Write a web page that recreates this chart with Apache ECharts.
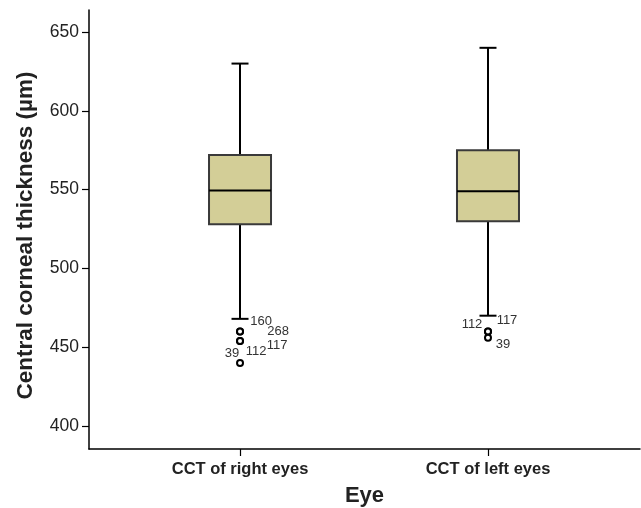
<!DOCTYPE html>
<html>
<head>
<meta charset="utf-8">
<script src="https://cdn.jsdelivr.net/npm/echarts@6/dist/echarts.min.js"></script>
<style>
html,body{margin:0;padding:0;background:#fff;}
#chart{width:641px;height:508px;}
</style>
</head>
<body>
<div id="chart"></div>
<script>
// ---- data ----
const categories = ['CCT of right eyes', 'CCT of left eyes'];
// [lower whisker, Q1, median, Q3, upper whisker]
const rightEyeStats = [468, 528, 549.5, 572, 630];
const leftEyeStats = [470, 530, 549, 575, 640];
// outliers: [category index, value, case label]
const outlierX = [0, 0, 0, 0, 0, 1, 1, 1];
const outlierY = [460, 460, 454, 454, 440, 460, 460, 456];
const outlierLabels = ['160', '268', '117', '112', '39', '112', '117', '39'];
const yTicks = [400, 450, 500, 550, 600, 650];
const xTicks = [0, 1];

// ---- label placement (style, not data) ----
const labelOffsets = [[21, -10], [38, 0], [37, 5], [16, 11], [-8, -10], [-16, -7], [19, -11], [15, 7]];

const boxData = [[0].concat(rightEyeStats), [1].concat(leftEyeStats)];
const outlierData = outlierX.map((x, i) => ({
  value: [x, outlierY[i], outlierLabels[i]],
  label: { offset: labelOffsets[i] }
}));

const BOX_HALF = 31, CAP_HALF = 8.5;
function renderBox(params, api) {
  const x = api.value(0);
  const lo = api.coord([x, api.value(1)]);
  const q1 = api.coord([x, api.value(2)]);
  const med = api.coord([x, api.value(3)]);
  const q3 = api.coord([x, api.value(4)]);
  const hi = api.coord([x, api.value(5)]);
  const cx = lo[0];
  const lineStyle = { stroke: '#000', lineWidth: 2 };
  return {
    type: 'group',
    children: [
      { type: 'line', shape: { x1: cx, y1: hi[1], x2: cx, y2: q3[1] }, style: lineStyle },
      { type: 'line', shape: { x1: cx, y1: q1[1], x2: cx, y2: lo[1] }, style: lineStyle },
      { type: 'line', shape: { x1: cx - CAP_HALF, y1: hi[1], x2: cx + CAP_HALF, y2: hi[1] }, style: lineStyle },
      { type: 'line', shape: { x1: cx - CAP_HALF, y1: lo[1], x2: cx + CAP_HALF, y2: lo[1] }, style: lineStyle },
      { type: 'rect', shape: { x: cx - BOX_HALF, y: q3[1], width: BOX_HALF * 2, height: q1[1] - q3[1] },
        style: { fill: '#d3ce97', stroke: '#3a3a3a', lineWidth: 2 } },
      { type: 'line', shape: { x1: cx - BOX_HALF, y1: med[1], x2: cx + BOX_HALF, y2: med[1] }, style: lineStyle }
    ]
  };
}

const chart = echarts.init(document.getElementById('chart'));
chart.setOption({
  animation: false,
  backgroundColor: '#fff',
  grid: { left: 89, right: 1, top: 10, bottom: 59, containLabel: false, outerBoundsMode: 'none' },
  xAxis: {
    type: 'value',
    min: -0.609, max: 1.613,
    name: 'Eye',
    nameLocation: 'middle',
    nameGap: 36,
    nameTextStyle: { fontFamily: 'Liberation Sans, Arial', fontWeight: 'bold', fontSize: 22, color: '#222' },
    axisLine: { show: true, onZero: false, lineStyle: { color: '#000', width: 1.5 } },
    axisTick: { show: true, customValues: xTicks, length: 7, lineStyle: { color: '#000', width: 1.2 } },
    axisLabel: {
      customValues: xTicks,
      formatter: v => categories[Math.round(v)],
      margin: 12,
      fontFamily: 'Liberation Sans, Arial', fontWeight: 'bold', fontSize: 16.5, color: '#222'
    },
    splitLine: { show: false }
  },
  yAxis: {
    type: 'value',
    min: 385.4, max: 664,
    name: 'Central corneal thickness (\u00b5m)',
    nameLocation: 'middle',
    nameGap: 52,
    nameTextStyle: { fontFamily: 'Liberation Sans, Arial', fontWeight: 'bold', fontSize: 22.5, color: '#222', padding: [0, 12, 0, 0] },
    axisLine: { show: true, onZero: false, lineStyle: { color: '#000', width: 1.5 } },
    axisTick: { show: true, customValues: yTicks, length: 7, lineStyle: { color: '#000', width: 1.2 } },
    axisLabel: {
      customValues: yTicks,
      margin: 10,
      fontFamily: 'Liberation Sans, Arial', fontSize: 17.5, color: '#222'
    },
    splitLine: { show: false }
  },
  series: [
    {
      type: 'custom',
      renderItem: renderBox,
      encode: { x: 0, y: [1, 2, 3, 4, 5] },
      data: boxData,
      z: 2
    },
    {
      type: 'scatter',
      data: outlierData,
      symbol: 'circle',
      symbolSize: 6,
      itemStyle: { color: '#fff', borderColor: '#000', borderWidth: 2, opacity: 1 },
      label: {
        show: true,
        position: 'inside',
        align: 'center',
        verticalAlign: 'middle',
        formatter: p => p.value[2],
        fontFamily: 'Liberation Sans, Arial', fontSize: 13, color: '#333'
      },
      z: 3
    }
  ]
});
</script>
</body>
</html>
